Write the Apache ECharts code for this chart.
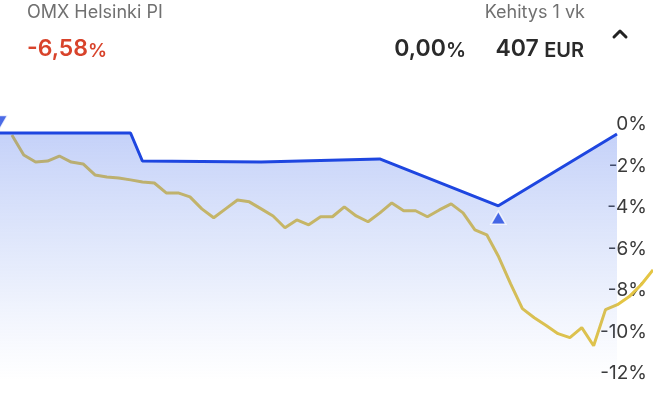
<!DOCTYPE html>
<html>
<head>
<meta charset="utf-8">
<script src="https://cdn.jsdelivr.net/npm/echarts@6/dist/echarts.min.js"></script>
<style>html,body{margin:0;padding:0;background:#fff}#c{width:653px;height:400px}</style>
</head>
<body>
<div id="c"></div>
<script>
// OMX Helsinki PI development (%), trading-day index 0..54
const indexValues = [-0.51,-1.47,-1.81,-1.76,-1.52,-1.81,-1.90,-2.43,-2.53,-2.58,-2.67,-2.77,-2.82,-3.30,-3.30,-3.49,-4.07,-4.50,-4.07,-3.64,-3.73,-4.07,-4.41,-4.98,-4.60,-4.84,-4.45,-4.45,-3.97,-4.41,-4.69,-4.26,-3.78,-4.16,-4.16,-4.45,-4.12,-3.83,-4.26,-5.08,-5.32,-6.38,-7.68,-8.88,-9.32,-9.70,-10.09,-10.28,-9.80,-10.67,-8.93,-8.69,-8.30,-7.73,-7.01];
// Portfolio development (%)
const portfolioDays = [-1, 10, 11, 21, 31, 41, 51];
const portfolioValues = [-0.41, -0.41, -1.76, -1.81, -1.66, -3.92, -0.46];
// Trade markers
const markerDays = [-1, 41];
const markerValues = [-0.41, -3.92];
const markerDirs = ['down', 'up'];
const yTicks = [0, -2, -4, -6, -8, -10, -12];

const chart = echarts.init(document.getElementById('c'), null, {renderer: 'canvas'});
const FONT = 'Inter, "Liberation Sans", sans-serif';
const yBase = {min: -13, max: 1, interval: 1, splitLine: {show: false}, axisLine: {show: false}, axisTick: {show: false}};
chart.setOption({
  animation: false,
  grid: [
    {left: 0, right: 36, top: 103.8, height: 290.2},
    {left: 0, right: 0, top: 103.8, height: 290.2}
  ],
  xAxis: [
    {type: 'value', gridIndex: 0, min: -1, max: 51, show: false},
    {type: 'value', gridIndex: 1, min: -1, max: 54, show: false}
  ],
  yAxis: [
    Object.assign({type: 'value', gridIndex: 0, position: 'right',
      axisLabel: {
        align: 'right', margin: 30, fontSize: 19, color: '#3a3a3a', fontFamily: FONT,
        formatter: v => yTicks.indexOf(v) >= 0 ? v + '%' : ''
      }}, yBase),
    Object.assign({type: 'value', gridIndex: 1, show: false}, yBase)
  ],
  series: [
    {
      type: 'line', xAxisIndex: 1, yAxisIndex: 1, z: 1, symbol: 'none',
      data: indexValues.map((v, i) => [i, v]),
      lineStyle: {color: '#e4c544', width: 3}
    },
    {
      type: 'line', xAxisIndex: 0, yAxisIndex: 0, z: 2, symbol: 'none',
      data: portfolioDays.map((d, i) => [d, portfolioValues[i]]),
      lineStyle: {color: '#1e46e0', width: 3},
      areaStyle: {
        origin: 'start',
        color: new echarts.graphic.LinearGradient(0, 0, 0, 1, [
          {offset: 0, color: 'rgba(70,110,235,0.45)'},
          {offset: 0.55, color: 'rgba(90,130,235,0.2)'},
          {offset: 0.95, color: 'rgba(120,150,240,0.0)'}
        ])
      }
    },
    {
      type: 'scatter', xAxisIndex: 0, yAxisIndex: 0, z: 3, clip: false,
      data: markerDays.map((d, i) => ({
        value: [d, markerValues[i]],
        symbolRotate: markerDirs[i] === 'down' ? 180 : 0,
        symbolOffset: markerDirs[i] === 'down' ? [0, -11] : [0, 12]
      })),
      symbol: 'triangle', symbolSize: [15, 13],
      itemStyle: {color: '#1e46e0', borderColor: '#fff', borderWidth: 1.5}
    }
  ],
  graphic: [
    {type: 'text', left: 27, top: 4, style: {text: 'OMX Helsinki PI', font: '18px ' + FONT, fill: '#707070'}},
    {type: 'text', left: 27, top: 38, style: {
      text: '{n|-6,58}{p|%}',
      rich: {
        n: {fontSize: 23, fontWeight: 600, fill: '#d8432b', fontFamily: FONT},
        p: {fontSize: 19, fontWeight: 600, fill: '#d8432b', fontFamily: FONT, padding: [3, 0, 0, 0]}
      }
    }},
    {type: 'text', right: 68, top: 4, style: {text: 'Kehitys 1 vk', font: '18px ' + FONT, fill: '#707070'}},
    {type: 'text', right: 187, top: 38, style: {
      text: '{n|0,00}{p|%}',
      rich: {
        n: {fontSize: 23, fontWeight: 600, fill: '#2a2a2a', fontFamily: FONT},
        p: {fontSize: 20, fontWeight: 600, fill: '#2a2a2a', fontFamily: FONT, padding: [2, 0, 0, 0]}
      }
    }},
    {type: 'text', right: 69, top: 38, style: {
      text: '{n|407} {p|EUR}',
      rich: {
        n: {fontSize: 23, fontWeight: 600, fill: '#2a2a2a', fontFamily: FONT},
        p: {fontSize: 20, fontWeight: 600, fill: '#2a2a2a', fontFamily: FONT, padding: [2, 0, 0, 2]}
      }
    }},
    {type: 'polyline', shape: {points: [[614, 37], [620, 31], [626, 37]]},
      style: {stroke: '#222', lineWidth: 3, fill: null, lineCap: 'round', lineJoin: 'round'}}
  ]
});
</script>
</body>
</html>
